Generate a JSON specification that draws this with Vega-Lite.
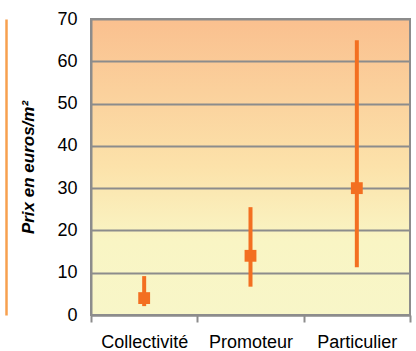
{
  "$schema": "https://vega.github.io/schema/vega-lite/v6.json",
  "width": 319,
  "height": 296,
  "autosize": {"type": "none"},
  "padding": {"left": 91, "top": 19, "right": 6, "bottom": 36},
  "background": "white",
  "config": {
    "font": "Liberation Sans",
    "view": {
      "stroke": "#8C8C8C",
      "strokeWidth": 2,
      "fill": {"gradient": "linear", "x1": 0, "y1": 0, "x2": 0, "y2": 1,
        "stops": [
          {"offset": 0, "color": "#FAC08F"},
          {"offset": 0.5, "color": "#FCE2AA"},
          {"offset": 0.75, "color": "#F9F5C4"},
          {"offset": 1, "color": "#F8F6C8"}
        ]}
    }
  },
  "data": {"values": [
    {"cat": "Collectivité", "lo": 2.1, "mid": 4.0, "hi": 9.2},
    {"cat": "Promoteur", "lo": 6.7, "mid": 14.0, "hi": 25.5},
    {"cat": "Particulier", "lo": 11.3, "mid": 30.0, "hi": 65.0}
  ]},
  "encoding": {
    "x": {
      "field": "cat", "type": "nominal", "sort": null,
      "scale": {"paddingInner": 0, "paddingOuter": 0},
      "axis": {
        "title": null, "labelAngle": 0, "labelFontSize": 18, "labelColor": "#000000",
        "tickBand": "extent", "tickColor": "#8C8C8C", "tickWidth": 2, "tickSize": 7,
        "domainColor": "#8C8C8C", "domainWidth": 2, "labelPadding": 11, "grid": false
      }
    }
  },
  "layer": [
    {
      "mark": {"type": "rule", "color": "#F36F21", "strokeWidth": 4},
      "encoding": {
        "y": {
          "field": "lo", "type": "quantitative",
          "scale": {"domain": [0, 70]},
          "axis": {
            "values": [0, 10, 20, 30, 40, 50, 60, 70],
            "title": "Prix en euros/m²", "titleFontSize": 17, "titleFontStyle": "italic",
            "titleFontWeight": "bold", "titleColor": "#000000", "titlePadding": 19,
            "labelFontSize": 18, "labelColor": "#000000", "labelPadding": 14,
            "ticks": false, "grid": true, "gridColor": "#8C8C8C", "gridWidth": 2,
            "domainColor": "#8C8C8C", "domainWidth": 2
          }
        },
        "y2": {"field": "hi"}
      }
    },
    {
      "mark": {"type": "square", "color": "#F36F21", "size": 140, "filled": true, "opacity": 1},
      "encoding": {
        "y": {
          "field": "mid", "type": "quantitative",
          "scale": {"domain": [0, 70]},
          "axis": {
            "orient": "left", "offset": 85, "labels": false, "ticks": false, "grid": false,
            "title": null, "domainColor": "#F7A04F", "domainWidth": 2.5
          }
        }
      }
    }
  ],
  "resolve": {"axis": {"y": "independent"}}
}
